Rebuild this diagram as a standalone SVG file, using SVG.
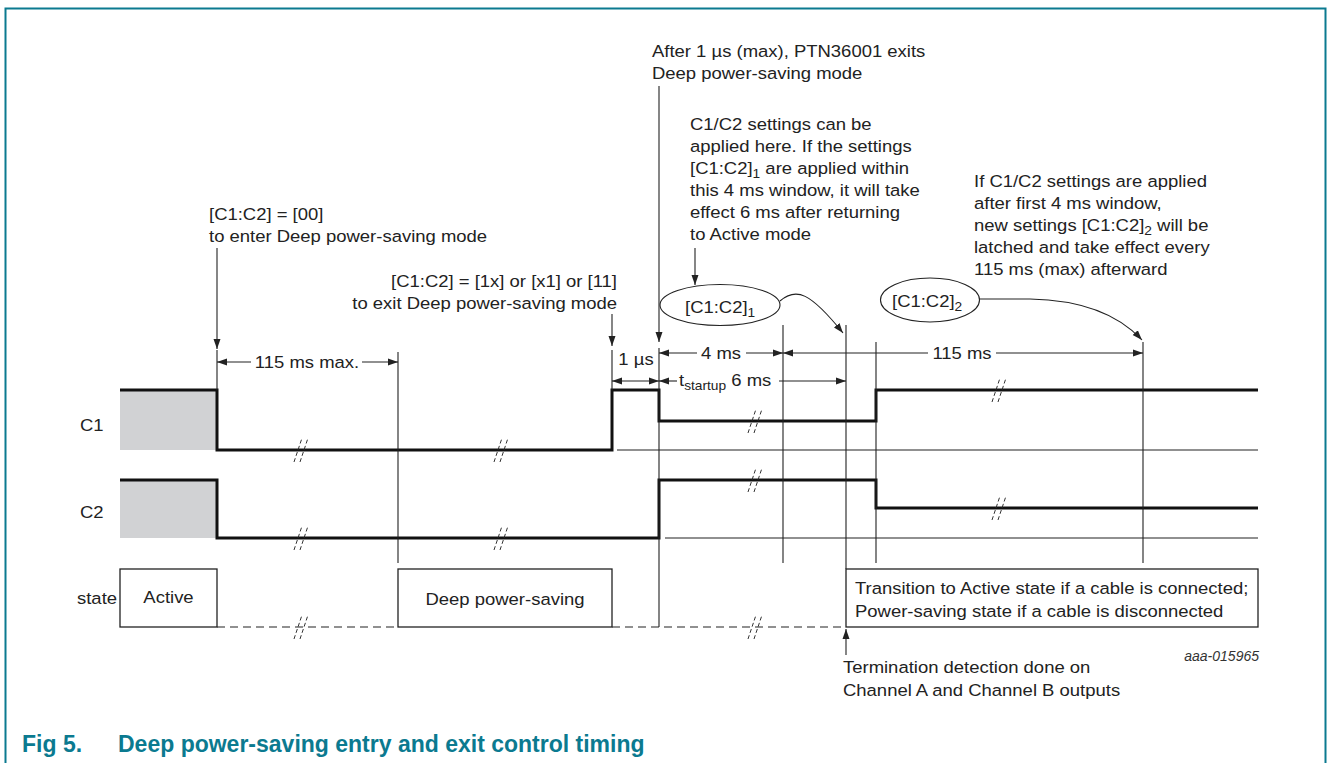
<svg xmlns="http://www.w3.org/2000/svg" width="1328" height="763" viewBox="0 0 1328 763">
<defs>
<style>
text{font-family:"Liberation Sans",Arial,Helvetica,sans-serif;font-size:16.8px;fill:#222}
.cap{font-weight:bold;font-size:23px;fill:#0b7a90}
.id{font-style:italic;font-size:14px;fill:#333}
.sub{font-size:12.5px}
.thin{stroke:#222;stroke-width:1.1;fill:none}
.wave{stroke:#111;stroke-width:3;fill:none;stroke-linejoin:miter}
.dash{stroke:#222;stroke-width:1.2;fill:none;stroke-dasharray:8 5}
.brk{stroke:#333;stroke-width:1;fill:none;stroke-dasharray:4 2.5}
.box{stroke:#222;stroke-width:1.3;fill:#fff}
.arr{stroke:#222;stroke-width:1.1;fill:none;marker-end:url(#ah)}
.dim{stroke:#222;stroke-width:1.1;fill:none}
</style>
<marker id="ah" markerUnits="userSpaceOnUse" markerWidth="10" markerHeight="8" refX="10" refY="4" orient="auto-start-reverse"><path d="M0,0.5 L10,4 L0,7.5 z" fill="#222"/></marker>
</defs>
<rect width="1328" height="763" fill="#fff"/>
<path d="M5.5,763 V8.5 H1325.5 V763" fill="none" stroke="#0b7a90" stroke-width="2"/>

<g id="signal-labels">
<text transform="translate(80,0) scale(1.1,1)" y="431">C1</text>
<text transform="translate(80,0) scale(1.1,1)" y="518">C2</text>
<text transform="translate(77,0) scale(1.1,1)" y="604">state</text>
</g>

<g id="c1-wave">
<rect x="120" y="390" width="97" height="60" fill="#d1d2d4"/>
<path class="thin" d="M617,450 H1258"/>
<path class="wave" d="M120,390 H217 V450 H612 V390 H659 V421 H876 V390 H1258"/>
</g>
<g id="c2-wave">
<rect x="120" y="480" width="97" height="58" fill="#d1d2d4"/>
<path class="thin" d="M665,538 H1258"/>
<path class="wave" d="M120,480 H217 V538 H659 V480 H876 V508 H1258"/>
</g>

<g id="state-active"><rect class="box" x="120" y="569" width="97" height="58"/><text transform="translate(168.5,0) scale(1.1,1)" y="603" text-anchor="middle">Active</text></g>
<g id="state-deep"><rect class="box" x="398" y="569" width="214" height="58"/><text transform="translate(505,0) scale(1.1,1)" y="605" text-anchor="middle">Deep power-saving</text></g>
<g id="state-transition"><rect class="box" x="846" y="569" width="412" height="58"/>
<g transform="translate(855,0) scale(1.1,1)">
<text y="594">Transition to Active state if a cable is connected;</text>
<text y="617">Power-saving state if a cable is disconnected</text></g></g>

<g id="state-dashes">
<path class="dash" d="M217,627 H398 M612,627 H846"/>
</g>

<g id="breaks">
<g id="b1"><path class="brk" d="M294,462 L302,438 M300,462 L308,438"/></g>
<g id="b2"><path class="brk" d="M494,462 L502,438 M500,462 L508,438"/></g>
<g id="b3"><path class="brk" d="M748,433 L756,409 M754,433 L762,409"/></g>
<g id="b4"><path class="brk" d="M992,402 L1000,378 M998,402 L1006,378"/></g>
<g id="b5"><path class="brk" d="M294,550 L302,526 M300,550 L308,526"/></g>
<g id="b6"><path class="brk" d="M494,550 L502,526 M500,550 L508,526"/></g>
<g id="b7"><path class="brk" d="M748,492 L756,468 M754,492 L762,468"/></g>
<g id="b8"><path class="brk" d="M992,520 L1000,496 M998,520 L1006,496"/></g>
<g id="b9"><path class="brk" d="M294,639 L302,615 M300,639 L308,615"/></g>
<g id="b10"><path class="brk" d="M748,639 L756,615 M754,639 L762,615"/></g>
</g>

<g id="note-enter" transform="translate(209,0) scale(1.1,1)"><text y="220">[C1:C2] = [00]</text><text y="242">to enter Deep power-saving mode</text></g>
<g id="note-exit" transform="translate(617,0) scale(1.1,1)"><text y="287" text-anchor="end">[C1:C2] = [1x] or [x1] or [11]</text><text y="309" text-anchor="end">to exit Deep power-saving mode</text></g>
<g id="note-after" transform="translate(652,0) scale(1.1,1)"><text y="57">After 1 µs (max), PTN36001 exits</text><text y="79">Deep power-saving mode</text></g>
<g id="note-window" transform="translate(690,0) scale(1.1,1)">
<text y="130">C1/C2 settings can be</text>
<text y="152">applied here. If the settings</text>
<text y="174">[C1:C2]<tspan class="sub" dy="4">1</tspan><tspan dy="-4"> are applied within</tspan></text>
<text y="196">this 4 ms window, it will take</text>
<text y="218">effect 6 ms after returning</text>
<text y="240">to Active mode</text>
</g>
<g id="note-latched" transform="translate(974,0) scale(1.1,1)">
<text y="187">If C1/C2 settings are applied</text>
<text y="209">after first 4 ms window,</text>
<text y="231">new settings [C1:C2]<tspan class="sub" dy="4">2</tspan><tspan dy="-4"> will be</tspan></text>
<text y="253">latched and take effect every</text>
<text y="275">115 ms (max) afterward</text>
</g>
<g id="setting-1"><ellipse class="thin" cx="720" cy="305" rx="60" ry="20.5" style="fill:#fff"/><text transform="translate(685,0) scale(1.1,1)" y="313">[C1:C2]<tspan class="sub" dy="4">1</tspan></text></g>
<g id="setting-2"><ellipse class="thin" cx="930" cy="300" rx="49.5" ry="22" style="fill:#fff"/><text transform="translate(892,0) scale(1.1,1)" y="307">[C1:C2]<tspan class="sub" dy="4">2</tspan></text></g>
<g id="note-termination" transform="translate(843,0) scale(1.1,1)"><text y="673">Termination detection done on</text><text y="696">Channel A and Channel B outputs</text></g>
<text class="id" x="1259" y="661" text-anchor="end">aaa-015965</text>

<g id="connectors">
<path class="thin" d="M217,350 V390 M398,352 V563 M612,350 V390 M659,348 V627 M783,325 V563 M846,325 V569 M876,342 V563 M1143,342 V563"/>
<path class="arr" d="M217,248 V349"/>
<path class="arr" d="M612,314 V346"/>
<path class="arr" d="M659,86 V342"/>
<path class="arr" d="M695,248 V285"/>
<path class="arr" d="M780,301 C796,287 810,292 843,333"/>
<path class="arr" d="M979,299 L1030,299 C1080,300 1118,314 1142,340"/>
<path class="arr" d="M846,655 V629"/>
<path class="dim" style="marker-start:url(#ah)" d="M217,362 H251"/>
<path class="dim" style="marker-end:url(#ah)" d="M362,362 H398"/>
<text transform="translate(307,0) scale(1.1,1)" y="368" text-anchor="middle">115 ms max.</text>
<path class="dim" style="marker-start:url(#ah);marker-end:url(#ah)" d="M612,381 H659"/>
<text transform="translate(636,0) scale(1.1,1)" y="365" text-anchor="middle">1 µs</text>
<path class="dim" style="marker-start:url(#ah)" d="M659,353 H697"/>
<path class="dim" style="marker-end:url(#ah)" d="M746,353 H783"/>
<text transform="translate(721,0) scale(1.1,1)" y="359" text-anchor="middle">4 ms</text>
<path class="dim" style="marker-start:url(#ah)" d="M783,353 H928"/>
<path class="dim" style="marker-end:url(#ah)" d="M996,353 H1143"/>
<text transform="translate(962,0) scale(1.1,1)" y="359" text-anchor="middle">115 ms</text>
<path class="dim" style="marker-start:url(#ah)" d="M659,381 H677"/>
<path class="dim" style="marker-end:url(#ah)" d="M779,381 H846"/>
<text transform="translate(679,0) scale(1.1,1)" y="386">t<tspan class="sub" dy="4">startup</tspan><tspan dy="-4"> 6 ms</tspan></text>
</g>

<g id="caption">
<text class="cap" x="22" y="752">Fig 5.</text>
<text class="cap" x="118" y="752">Deep power-saving entry and exit control timing</text>
</g>
</svg>
